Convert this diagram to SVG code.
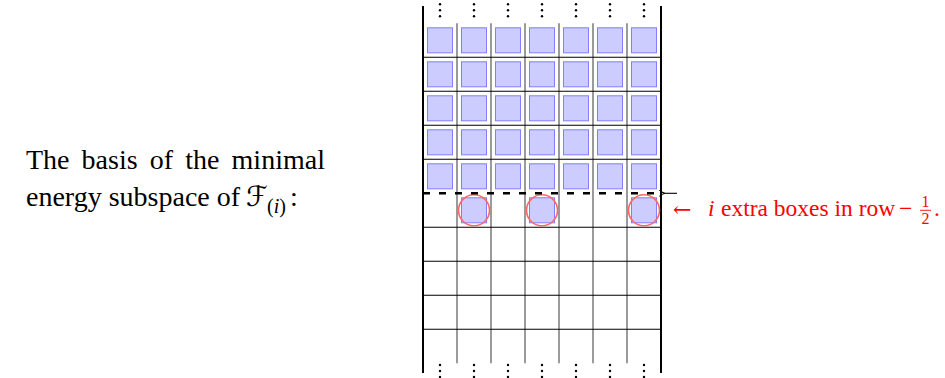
<svg xmlns="http://www.w3.org/2000/svg" width="945" height="378" viewBox="0 0 945 378">
<defs>
<style>
.box{fill:#ccccff;stroke:#7f7fff;stroke-width:1}
.hl{stroke:#000;stroke-width:1.1;fill:none}
.vl{stroke:#707070;stroke-width:1.4;fill:none}
.edge{stroke:#000;stroke-width:2;fill:none}
.dot{fill:#000}
.ring{fill:none;stroke:#ff6666;stroke-width:1.6}
.txt{font-family:"Liberation Serif","Times New Roman",serif;font-size:28px;fill:#000}
.red{font-family:"Liberation Serif","Times New Roman",serif;font-size:23.5px;fill:#ff0000}
</style>
<marker id="ah" viewBox="0 0 10 10" refX="1" refY="5" markerWidth="7" markerHeight="7" markerUnits="userSpaceOnUse" orient="auto">
<path d="M9,0.5 Q5,4 1,5 Q5,6 9,9.5" fill="none" stroke="#000" stroke-width="1.5"/>
</marker>
</defs>
<rect width="945" height="378" fill="#fff"/>

<g id="caption">
<text class="txt"><tspan x="26" y="169">The</tspan><tspan x="81.6" y="169">basis</tspan><tspan x="149.8" y="169">of</tspan><tspan x="185.2" y="169">the</tspan><tspan x="231.6" y="169">minimal</tspan></text>
<text class="txt" x="26" y="206">energy subspace of</text>
<text x="246" y="206" style="font-family:'DejaVu Serif','DejaVu Sans',serif;font-size:28px">ℱ</text>
<text class="txt" x="267" y="213" style="font-size:20px">(<tspan font-style="italic">i</tspan>)</text>
<text class="txt" x="290" y="206">:</text>
</g>

<g id="grid">
<g class="vl">
<line x1="457" y1="23.3" x2="457" y2="363.3"/>
<line x1="491" y1="23.3" x2="491" y2="363.3"/>
<line x1="525" y1="23.3" x2="525" y2="363.3"/>
<line x1="559" y1="23.3" x2="559" y2="363.3"/>
<line x1="593" y1="23.3" x2="593" y2="363.3"/>
<line x1="627" y1="23.3" x2="627" y2="363.3"/>
</g>
<g class="hl">
<line x1="423" y1="57.3" x2="661" y2="57.3"/>
<line x1="423" y1="91.3" x2="661" y2="91.3"/>
<line x1="423" y1="125.3" x2="661" y2="125.3"/>
<line x1="423" y1="159.3" x2="661" y2="159.3"/>
<line x1="423" y1="227.3" x2="661" y2="227.3"/>
<line x1="423" y1="261.3" x2="661" y2="261.3"/>
<line x1="423" y1="295.3" x2="661" y2="295.3"/>
<line x1="423" y1="329.3" x2="661" y2="329.3"/>
</g>
<line class="edge" x1="423" y1="6" x2="423" y2="373"/>
<line class="edge" x1="661" y1="6" x2="661" y2="373"/>
</g>

<g id="boxes">
<rect class="box" x="427.5" y="27.8" width="25" height="25"/><rect class="box" x="461.5" y="27.8" width="25" height="25"/><rect class="box" x="495.5" y="27.8" width="25" height="25"/><rect class="box" x="529.5" y="27.8" width="25" height="25"/><rect class="box" x="563.5" y="27.8" width="25" height="25"/><rect class="box" x="597.5" y="27.8" width="25" height="25"/><rect class="box" x="631.5" y="27.8" width="25" height="25"/>
<rect class="box" x="427.5" y="61.8" width="25" height="25"/><rect class="box" x="461.5" y="61.8" width="25" height="25"/><rect class="box" x="495.5" y="61.8" width="25" height="25"/><rect class="box" x="529.5" y="61.8" width="25" height="25"/><rect class="box" x="563.5" y="61.8" width="25" height="25"/><rect class="box" x="597.5" y="61.8" width="25" height="25"/><rect class="box" x="631.5" y="61.8" width="25" height="25"/>
<rect class="box" x="427.5" y="95.8" width="25" height="25"/><rect class="box" x="461.5" y="95.8" width="25" height="25"/><rect class="box" x="495.5" y="95.8" width="25" height="25"/><rect class="box" x="529.5" y="95.8" width="25" height="25"/><rect class="box" x="563.5" y="95.8" width="25" height="25"/><rect class="box" x="597.5" y="95.8" width="25" height="25"/><rect class="box" x="631.5" y="95.8" width="25" height="25"/>
<rect class="box" x="427.5" y="129.8" width="25" height="25"/><rect class="box" x="461.5" y="129.8" width="25" height="25"/><rect class="box" x="495.5" y="129.8" width="25" height="25"/><rect class="box" x="529.5" y="129.8" width="25" height="25"/><rect class="box" x="563.5" y="129.8" width="25" height="25"/><rect class="box" x="597.5" y="129.8" width="25" height="25"/><rect class="box" x="631.5" y="129.8" width="25" height="25"/>
<rect class="box" x="427.5" y="163.8" width="25" height="25"/><rect class="box" x="461.5" y="163.8" width="25" height="25"/><rect class="box" x="495.5" y="163.8" width="25" height="25"/><rect class="box" x="529.5" y="163.8" width="25" height="25"/><rect class="box" x="563.5" y="163.8" width="25" height="25"/><rect class="box" x="597.5" y="163.8" width="25" height="25"/><rect class="box" x="631.5" y="163.8" width="25" height="25"/>
<rect class="box" x="461.5" y="197.8" width="25" height="25"/><rect class="box" x="529.5" y="197.8" width="25" height="25"/><rect class="box" x="631.5" y="197.8" width="25" height="25"/>
</g>

<g id="extra-circles">
<circle class="ring" cx="474" cy="210.3" r="15.5"/>
<circle class="ring" cx="542" cy="210.3" r="15.5"/>
<circle class="ring" cx="644" cy="210.3" r="15.5"/>
</g>

<g id="boundary">
<line x1="423" y1="193.3" x2="661" y2="193.3" stroke="#000" stroke-width="2.4" stroke-dasharray="7 9"/>
</g>

<g id="dots">
<g class="dot">
<circle cx="440" cy="4.3" r="1.2"/><circle cx="440" cy="10.3" r="1.2"/><circle cx="440" cy="16.3" r="1.2"/>
<circle cx="474" cy="4.3" r="1.2"/><circle cx="474" cy="10.3" r="1.2"/><circle cx="474" cy="16.3" r="1.2"/>
<circle cx="508" cy="4.3" r="1.2"/><circle cx="508" cy="10.3" r="1.2"/><circle cx="508" cy="16.3" r="1.2"/>
<circle cx="542" cy="4.3" r="1.2"/><circle cx="542" cy="10.3" r="1.2"/><circle cx="542" cy="16.3" r="1.2"/>
<circle cx="576" cy="4.3" r="1.2"/><circle cx="576" cy="10.3" r="1.2"/><circle cx="576" cy="16.3" r="1.2"/>
<circle cx="610" cy="4.3" r="1.2"/><circle cx="610" cy="10.3" r="1.2"/><circle cx="610" cy="16.3" r="1.2"/>
<circle cx="644" cy="4.3" r="1.2"/><circle cx="644" cy="10.3" r="1.2"/><circle cx="644" cy="16.3" r="1.2"/>
<circle cx="440" cy="365" r="1.2"/><circle cx="440" cy="371" r="1.2"/><circle cx="440" cy="377" r="1.2"/>
<circle cx="474" cy="365" r="1.2"/><circle cx="474" cy="371" r="1.2"/><circle cx="474" cy="377" r="1.2"/>
<circle cx="508" cy="365" r="1.2"/><circle cx="508" cy="371" r="1.2"/><circle cx="508" cy="377" r="1.2"/>
<circle cx="542" cy="365" r="1.2"/><circle cx="542" cy="371" r="1.2"/><circle cx="542" cy="377" r="1.2"/>
<circle cx="576" cy="365" r="1.2"/><circle cx="576" cy="371" r="1.2"/><circle cx="576" cy="377" r="1.2"/>
<circle cx="610" cy="365" r="1.2"/><circle cx="610" cy="371" r="1.2"/><circle cx="610" cy="377" r="1.2"/>
<circle cx="644" cy="365" r="1.2"/><circle cx="644" cy="371" r="1.2"/><circle cx="644" cy="377" r="1.2"/>
</g>
</g>

<g id="connectors">
<line x1="677" y1="193.3" x2="665" y2="193.3" stroke="#000" stroke-width="1.1" marker-end="url(#ah)"/>
</g>

<g id="label">
<text x="673" y="216.5" style="font-family:'DejaVu Serif','DejaVu Sans',serif;font-size:22px;fill:#ff0000">←</text>
<text class="red" x="708" y="215.7" font-style="italic">i</text>
<text class="red" x="721" y="215.7">extra boxes in row</text>
<text class="red" x="899" y="215.7">−</text>
<text class="red" x="925.5" y="207" text-anchor="middle" style="font-size:16px">1</text>
<line x1="920" y1="210.3" x2="931" y2="210.3" stroke="#ff0000" stroke-width="0.9"/>
<text class="red" x="925.5" y="223.5" text-anchor="middle" style="font-size:16px">2</text>
<text class="red" x="934" y="215.7">.</text>
</g>
</svg>
